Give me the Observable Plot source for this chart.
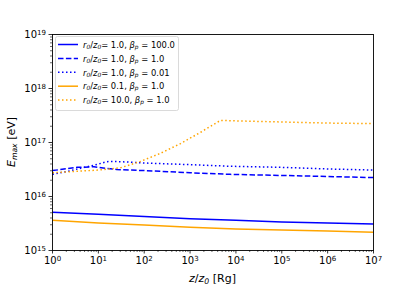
<!DOCTYPE html>
<html><head><meta charset="utf-8">
<script src="https://cdn.jsdelivr.net/npm/d3@7"></script>
<script src="https://cdn.jsdelivr.net/npm/@observablehq/plot@0.6"></script>
<style>
html,body{margin:0;padding:0;background:#fff;}
svg{font-family:"DejaVu Sans",sans-serif;}
</style></head>
<body><div id="chart"></div>
<script>
// z/z0 sample points and log10(Emax) readings for each series
const zSolidBlue = [1, 10, 100, 1e3, 1e4, 1e5, 1e6, 1e7];
const logSolidBlue = [15.71, 15.67, 15.63, 15.59, 15.56, 15.53, 15.51, 15.49];
const zDashedBlue = [1, 3.5, 8, 25, 100, 1e3, 7500, 1e5, 1e6, 1e7];
const logDashedBlue = [16.48, 16.54, 16.55, 16.50, 16.48, 16.44, 16.41, 16.39, 16.37, 16.35];
const zDottedBlue = [1, 2, 5, 10, 15, 20, 40, 100, 1e3, 7500, 1e5, 1e6, 1e7];
const logDottedBlue = [16.41, 16.46, 16.54, 16.60, 16.645, 16.65, 16.64, 16.62, 16.59, 16.56, 16.54, 16.51, 16.49];
const zSolidOrange = [1, 10, 100, 1e3, 1e4, 1e5, 1e6, 1e7];
const logSolidOrange = [15.56, 15.51, 15.47, 15.43, 15.40, 15.38, 15.36, 15.34];
const zDottedOrange = [1, 10, 30, 83, 226, 620, 1700, 4600, 1e4, 1e5, 1e6, 1e7];
const logDottedOrange = [16.44, 16.49, 16.53, 16.65, 16.80, 16.98, 17.19, 17.41, 17.40, 17.38, 17.36, 17.35];

const seriesNames = ["s1", "s2", "s3", "s4", "s5"];
const legendR = ["1.0", "1.0", "1.0", "0.1", "10.0"];
const legendBeta = ["100.0", "1.0", "0.01", "1.0", "1.0"];
const seriesColors = ["#0000ff", "#0000ff", "#0000ff", "#ffa500", "#ffa500"];
const seriesDash = [null, "5.5,2.4", "1.5,2.5", null, "1.5,2.5"];

const xMajor = [1, 10, 100, 1e3, 1e4, 1e5, 1e6, 1e7];
const yMajor = [1e15, 1e16, 1e17, 1e18, 1e19];

const zs = [zSolidBlue, zDashedBlue, zDottedBlue, zSolidOrange, zDottedOrange];
const ls = [logSolidBlue, logDashedBlue, logDottedBlue, logSolidOrange, logDottedOrange];
const data = [];
zs.forEach((zArr, i) => zArr.forEach((z, j) => data.push({series: seriesNames[i], z, E: Math.pow(10, ls[i][j])})));

const xMinor = [], yMinor = [];
for (let k = 0; k < 7; k++) for (let m = 2; m < 10; m++) xMinor.push(m * Math.pow(10, k));
for (let k = 15; k < 19; k++) for (let m = 2; m < 10; m++) yMinor.push(m * Math.pow(10, k));

const lineMarks = seriesNames.map((s, i) => Plot.line(data.filter(d => d.series === s), {
  x: "z", y: "E", stroke: seriesColors[i], strokeWidth: 1.5,
  strokeDasharray: seriesDash[i], strokeLinecap: "butt", curve: "linear"
}));

const expFmt = d => "10^" + Math.round(Math.log10(d));

const chart = Plot.plot({
  width: 415, height: 287,
  marginLeft: 52, marginRight: 42, marginTop: 34, marginBottom: 37,
  style: {fontFamily: "DejaVu Sans, sans-serif", fontSize: "10px", color: "#000"},
  x: {type: "log", domain: [1, 1e7]},
  y: {type: "log", domain: [1e15, 1e19]},
  marks: [
    ...lineMarks,
    Plot.axisX({ticks: xMinor, tickSize: 2, tickFormat: () => "", label: null, strokeWidth: 0.6}),
    Plot.axisX({ticks: xMajor, tickSize: 3.5, tickPadding: 3, tickFormat: expFmt, label: null, strokeWidth: 0.8, fontSize: 10}),
    Plot.axisY({ticks: yMinor, tickSize: 2, tickFormat: () => "", label: null, strokeWidth: 0.6}),
    Plot.axisY({ticks: yMajor, tickSize: 3.5, tickPadding: 3, tickFormat: expFmt, label: null, strokeWidth: 0.8, fontSize: 10}),
    Plot.frame({stroke: "#000", strokeWidth: 0.9})
  ]
});
document.getElementById("chart").appendChild(chart);

const svg = d3.select(chart);

// turn "10^k" tick labels into base + raised exponent
svg.selectAll("text").each(function() {
  const el = d3.select(this);
  const s = el.text();
  const m = /^10\^(\d+)$/.exec(s);
  if (!m) return;
  el.text(null);
  el.append("tspan").text("10");
  el.append("tspan").attr("font-size", 7).attr("dy", "-0.45em").text(m[1]);
});

function addRich(g, parts, size) {
  parts.forEach(p => {
    const t = g.append("tspan").text(p.t);
    if (p.i) t.attr("font-style", "italic");
    if (p.sub) t.attr("font-size", size * 0.7).attr("baseline-shift", "-20%");
  });
}

// x label
const xl = svg.append("text").attr("x", 212.5).attr("y", 282).attr("text-anchor", "middle").attr("font-size", 11).attr("fill", "#000");
addRich(xl, [{t: "z", i: 1}, {t: "/"}, {t: "z", i: 1}, {t: "0", sub: 1, i: 1}, {t: " [Rg]"}], 11);

// y label
const yl = svg.append("text").attr("transform", "translate(15,142) rotate(-90)").attr("text-anchor", "middle").attr("font-size", 11).attr("fill", "#000");
addRich(yl, [{t: "E", i: 1}, {t: "max", sub: 1, i: 1}, {t: " [eV]"}], 11);

// legend
const lg = svg.append("g").attr("text-anchor", "start");
const box = lg.append("rect").attr("x", 55.5).attr("y", 36.5).attr("width", 123).attr("height", 74).attr("rx", 2)
  .attr("fill", "#fff").attr("fill-opacity", 0.8).attr("stroke", "#d0d0d0").attr("stroke-width", 0.8);
const texts = [];
seriesNames.forEach((s, i) => {
  const y = 44.5 + i * 13.9;
  lg.append("line").attr("x1", 58).attr("x2", 78).attr("y1", y).attr("y2", y)
    .attr("stroke", seriesColors[i]).attr("stroke-width", 1.5)
    .attr("stroke-dasharray", seriesDash[i]);
  const t = lg.append("text").attr("x", 83).attr("y", y + 3.2).attr("text-anchor", "start").attr("font-size", 10).attr("fill", "#000");
  addRich(t, [{t: "r", i: 1}, {t: "0", sub: 1, i: 1}, {t: "/"}, {t: "z", i: 1}, {t: "0", sub: 1, i: 1},
    {t: "= " + legendR[i] + ", "}, {t: "β", i: 1}, {t: "p", sub: 1, i: 1}, {t: " = " + legendBeta[i]}], 10);
  texts.push(t);
});
// fit the legend font so the widest entry spans ~92px like the reference
const w0 = Math.max(...texts.map(t => t.node().getComputedTextLength()));
const fs = Math.max(7, Math.min(11, 10 * 92 / w0));
texts.forEach(t => {
  t.attr("font-size", fs);
  t.selectAll("tspan").filter(function() { return d3.select(this).attr("baseline-shift"); }).attr("font-size", fs * 0.7);
});
</script></body></html>
